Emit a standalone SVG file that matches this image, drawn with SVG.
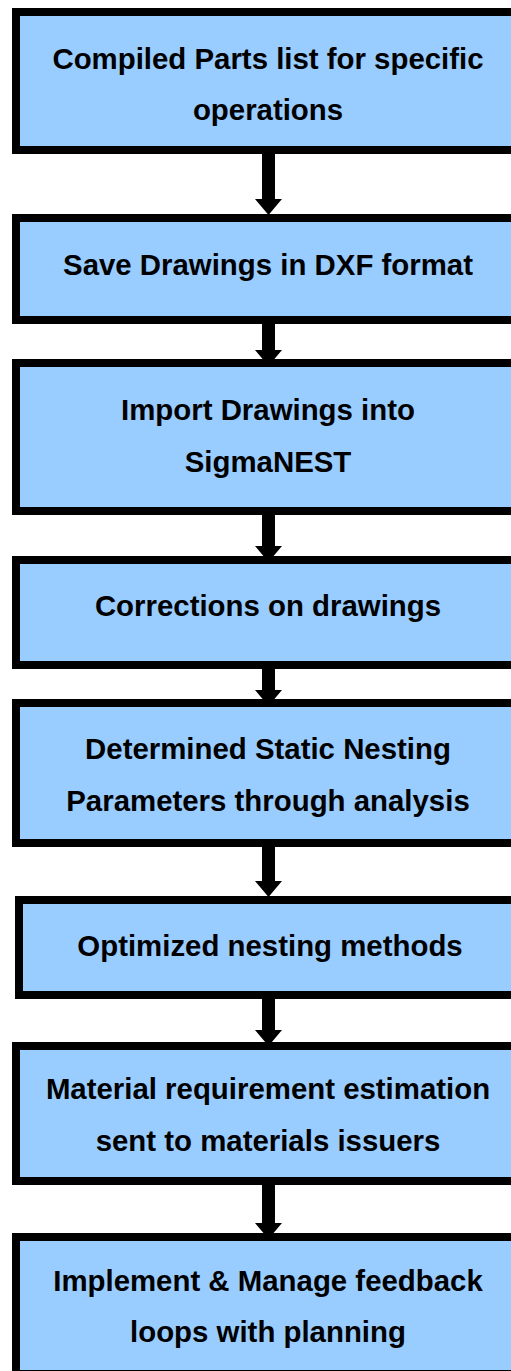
<svg xmlns="http://www.w3.org/2000/svg" width="511" height="1371" viewBox="0 0 511 1371">
<style>
.box{fill:#99ccff;stroke:#000;stroke-width:8}
.t{font-family:"Liberation Sans",Arial,sans-serif;font-weight:bold;font-size:29.4px;fill:#000;text-anchor:middle}
.sh{fill:#000}
</style>
<rect width="511" height="1371" fill="#fff"/>
<g id="connectors">
<path class="sh" d="M262,154 H275 V199 H282 L268.5,215 L255,199 H262 Z"/>
<path class="sh" d="M262,324 H275 V350 H282 L268.5,366 L255,350 H262 Z"/>
<path class="sh" d="M262,515 H275 V546 H282 L268.5,562 L255,546 H262 Z"/>
<path class="sh" d="M262,669 H275 V690 H282 L268.5,706 L255,690 H262 Z"/>
<path class="sh" d="M262,847 H275 V881 H282 L268.5,897 L255,881 H262 Z"/>
<path class="sh" d="M262,999 H275 V1030 H282 L268.5,1046 L255,1030 H262 Z"/>
<path class="sh" d="M262,1185 H275 V1223 H282 L268.5,1239 L255,1223 H262 Z"/>
</g>
<g id="n1"><rect class="box" x="16" y="12" width="510" height="138"/>
<text class="t" x="268" y="69">Compiled Parts list for specific</text>
<text class="t" x="268" y="120">operations</text></g>
<g id="n2"><rect class="box" x="16" y="218" width="510" height="102"/>
<text class="t" x="268" y="275">Save Drawings in DXF format</text></g>
<g id="n3"><rect class="box" x="16" y="363" width="510" height="148"/>
<text class="t" x="268" y="420">Import Drawings into</text>
<text class="t" x="268" y="472">SigmaNEST</text></g>
<g id="n4"><rect class="box" x="16" y="560" width="510" height="105"/>
<text class="t" x="268" y="616">Corrections on drawings</text></g>
<g id="n5"><rect class="box" x="16" y="703" width="510" height="140"/>
<text class="t" x="268" y="759">Determined Static Nesting</text>
<text class="t" x="268" y="811">Parameters through analysis</text></g>
<g id="n6"><rect class="box" x="19" y="900" width="510" height="95"/>
<text class="t" x="270" y="956">Optimized nesting methods</text></g>
<g id="n7"><rect class="box" x="16" y="1046" width="510" height="135"/>
<text class="t" x="268" y="1099">Material requirement estimation</text>
<text class="t" x="268" y="1151">sent to materials issuers</text></g>
<g id="n8"><rect class="box" x="16" y="1237" width="510" height="137"/>
<text class="t" x="268" y="1291">Implement &amp; Manage feedback</text>
<text class="t" x="268" y="1342">loops with planning</text></g>
</svg>
